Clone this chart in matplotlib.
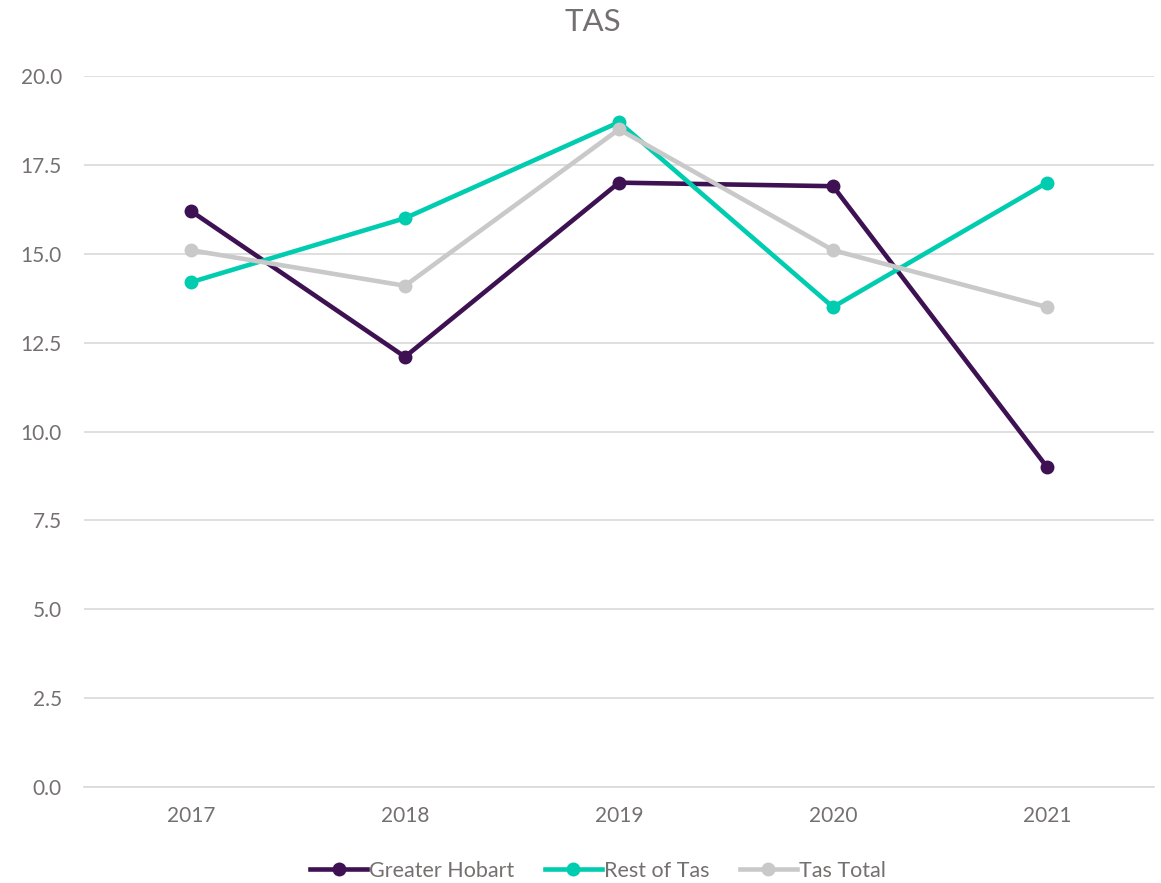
import numpy as np
import matplotlib.pyplot as plt

plt.rcParams['font.family'] = ['Lato', 'DejaVu Sans']

# Data
years = ['2017', '2018', '2019', '2020', '2021']
greater_hobart = [16.2, 12.1, 17.0, 16.9, 9.0]
rest_of_tas = [14.2, 16.0, 18.7, 13.5, 17.0]
tas_total = [15.1, 14.1, 18.5, 15.1, 13.5]

series = [('Greater Hobart', greater_hobart, '#3e1152'),
          ('Rest of Tas', rest_of_tas, '#00ccb0'),
          ('Tas Total', tas_total, '#c9c9c9')]

text_col = '#757070'

fig = plt.figure(figsize=(11.61, 8.83), dpi=100)
ax = fig.add_axes([84/1161, 1-787/883, (1154-84)/1161, (787-76)/883])

x = np.arange(len(years))
for name, vals, col in series:
    ax.plot(x, vals, color=col, lw=3.3, marker='o', ms=9, label=name)

ax.set_xlim(-0.5, len(years)-0.5)
ax.set_ylim(0, 20)
ax.set_yticks(np.arange(0, 20.1, 2.5))
ax.set_yticklabels([f'{v:.1f}' for v in np.arange(0, 20.1, 2.5)])
ax.set_xticks(x)
ax.set_xticklabels(years)
ax.yaxis.grid(True, color='#d9d9d9', lw=1.2)
ax.set_axisbelow(True)
for s in ['top', 'right', 'left']:
    ax.spines[s].set_visible(False)
ax.spines['bottom'].set_color('#d9d9d9')
ax.spines['bottom'].set_linewidth(1.2)
ax.tick_params(axis='both', length=0, labelsize=15, colors=text_col, pad=14)
ax.tick_params(axis='y', pad=16)

fig.text(593/1161, 1-22/883, 'TAS', ha='center', va='center', fontsize=22.5, color=text_col)

leg = ax.legend(loc='center', bbox_to_anchor=((598-84)/1070, (787-871)/(787-76)), ncol=3,
                frameon=False, fontsize=15.5, handlelength=2.65, handletextpad=0.1,
                columnspacing=1.4)
for t in leg.get_texts():
    t.set_color(text_col)

fig.savefig('out.png', dpi=100)
